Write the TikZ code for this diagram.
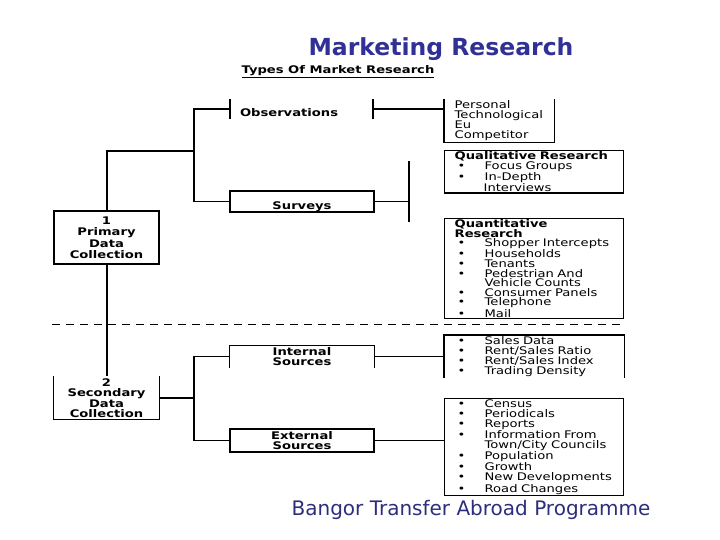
\documentclass[tikz,border=0pt]{standalone}
\usepackage{fontspec}
\setmainfont{DejaVu Sans}
\newfontfamily\boxfont[FakeStretch=1.25]{DejaVu Sans}
\usetikzlibrary{positioning}
\definecolor{titleblue}{RGB}{48,48,150}
\definecolor{footblue}{RGB}{45,45,125}
\tikzset{
  lbl/.style={font=\boxfont\bfseries\fontsize{10.5}{10}\selectfont, align=center, inner sep=0pt},
  lblbox/.style={lbl, draw, line width=1.3pt, minimum width=105pt},
  lstbox/.style={draw, line width=1.3pt, anchor=north west, inner xsep=10pt, inner ysep=1pt,
    align=left, font=\boxfont\fontsize{10.5}{10}\selectfont},
  ln/.style={line width=1.3pt},
  mainln/.style={line width=2pt},
}
\newcommand{\itm}[1]{\makebox[30pt][l]{\hspace{3pt}\textbullet}#1}
\newcommand{\lowtxt}[1]{\raisebox{-8pt}[0pt][0pt]{#1}}
\begin{document}
\begin{tikzpicture}[x=1pt,y=-1pt]
  \useasboundingbox (0,0) rectangle (720,540);
  %Titles
  \node[font=\bfseries\fontsize{23.5}{28}\selectfont, text=titleblue] (title) at (441,49) {Marketing Research};
  \node[lbl] (types) at (338,72) {\underline{Types Of Market Research}};
  \node[font=\fontsize{20}{24}\selectfont, text=footblue] (foot) at (471,510) {Bangor Transfer Abroad Programme};
  %Left boxes
  \node[lblbox, minimum height=53pt, font=\boxfont\bfseries\fontsize{10.5}{11.5}\selectfont] (prim) at (106.5,237.5) {1\\Primary\\Data\\Collection};
  \node[lblbox, draw=none, minimum height=42pt, font=\boxfont\bfseries\fontsize{10.5}{10.5}\selectfont] (sec) at (106.5,398) {2\\Secondary\\Data\\Collection};
  \draw[ln] (sec.north west) |- (sec.south east) -- (sec.north east);
  %Middle boxes
  \node[lbl, minimum height=20pt, text width=123pt, inner xsep=10pt, align=left] (obs) at (301.5,109) {\lowtxt{Observations}};
  \draw[mainln] (obs.north west) -- (obs.south west);
  \draw[mainln] (obs.north east) -- (obs.south east);
  \node[lblbox, minimum width=144pt, minimum height=21pt] (surv) at (302,201.5) {\lowtxt{Surveys}};
  \node[lblbox, draw=none, minimum width=144pt, minimum height=21pt] (int) at (302,356.5) {Internal\\Sources};
  \draw[ln] (int.south west) |- (int.north east) -- (int.south east);
  \node[lblbox, minimum width=144pt, minimum height=23pt] (ext) at (302,440.5) {External\\Sources};
  %Right boxes
  \node[lstbox, draw=none, text width=89pt, minimum height=41pt] (pers) at (444,99) {Personal\\Technological\\Eu\\Competitor};
  \draw[ln] (pers.north west) |- (pers.south east) -- (pers.north east);
  \node[lstbox, text width=159pt, minimum height=41pt] (qual) at (444,150) {\textbf{Qualitative Research}\\\itm{Focus Groups}\\\itm{In-Depth}\\\hspace*{29pt}Interviews};
  \node[lstbox, text width=159pt, font=\boxfont\fontsize{10.5}{9.6}\selectfont] (quant) at (444,218) {\textbf{Quantitative}\\\textbf{Research}\\\itm{Shopper Intercepts}\\\itm{Households}\\\itm{Tenants}\\\itm{Pedestrian And}\\\hspace*{30pt}Vehicle Counts\\\itm{Consumer Panels}\\\itm{Telephone}\\\itm{Mail}};
  \node[lstbox, draw=none, text width=159pt, minimum height=42pt] (intl) at (444,335) {\itm{Sales Data}\\\itm{Rent/Sales Ratio}\\\itm{Rent/Sales Index}\\\itm{Trading Density}};
  \draw[ln] (intl.south west) |- (intl.north east) -- (intl.south east);
  \node[lstbox, text width=159pt, minimum height=96pt] (extl) at (444,398) {\itm{Census}\\\itm{Periodicals}\\\itm{Reports}\\\itm{Information From}\\\hspace*{30pt}Town/City Councils\\\itm{Population}\\\itm{Growth}\\\itm{New Developments}\\\itm{Road Changes}};
  %Divider
  \coordinate (dl) at (52,324);
  \coordinate (dr) at (620,324);
  \draw[line width=1pt, dash pattern=on 8pt off 6pt] (dl) -- (dr);
  %Primary branch
  \coordinate (jp) at (194,151);
  \draw[mainln] (prim.north) |- (jp);
  \draw[ln] (obs.west) -| (jp) |- (surv.west);
  \draw[ln] (obs.east) -- (obs.east -| pers.west);
  \coordinate (stick) at (409,201.5);
  \draw[ln] (surv.east) -- (stick);
  \draw[ln] ([yshift=40pt]stick) -- ([yshift=-21pt]stick);
  \draw[mainln] (prim.south) -- (sec.north);
  %Secondary branch
  \coordinate (js) at (194,398);
  \draw[ln] (sec.east) -- (js);
  \draw[ln] (int.west) -| (js) |- (ext.west);
  \draw[ln] (int.east) -- (int.east -| intl.west);
  \draw[ln] (ext.east) -- (ext.east -| extl.west);
\end{tikzpicture}
\end{document}
